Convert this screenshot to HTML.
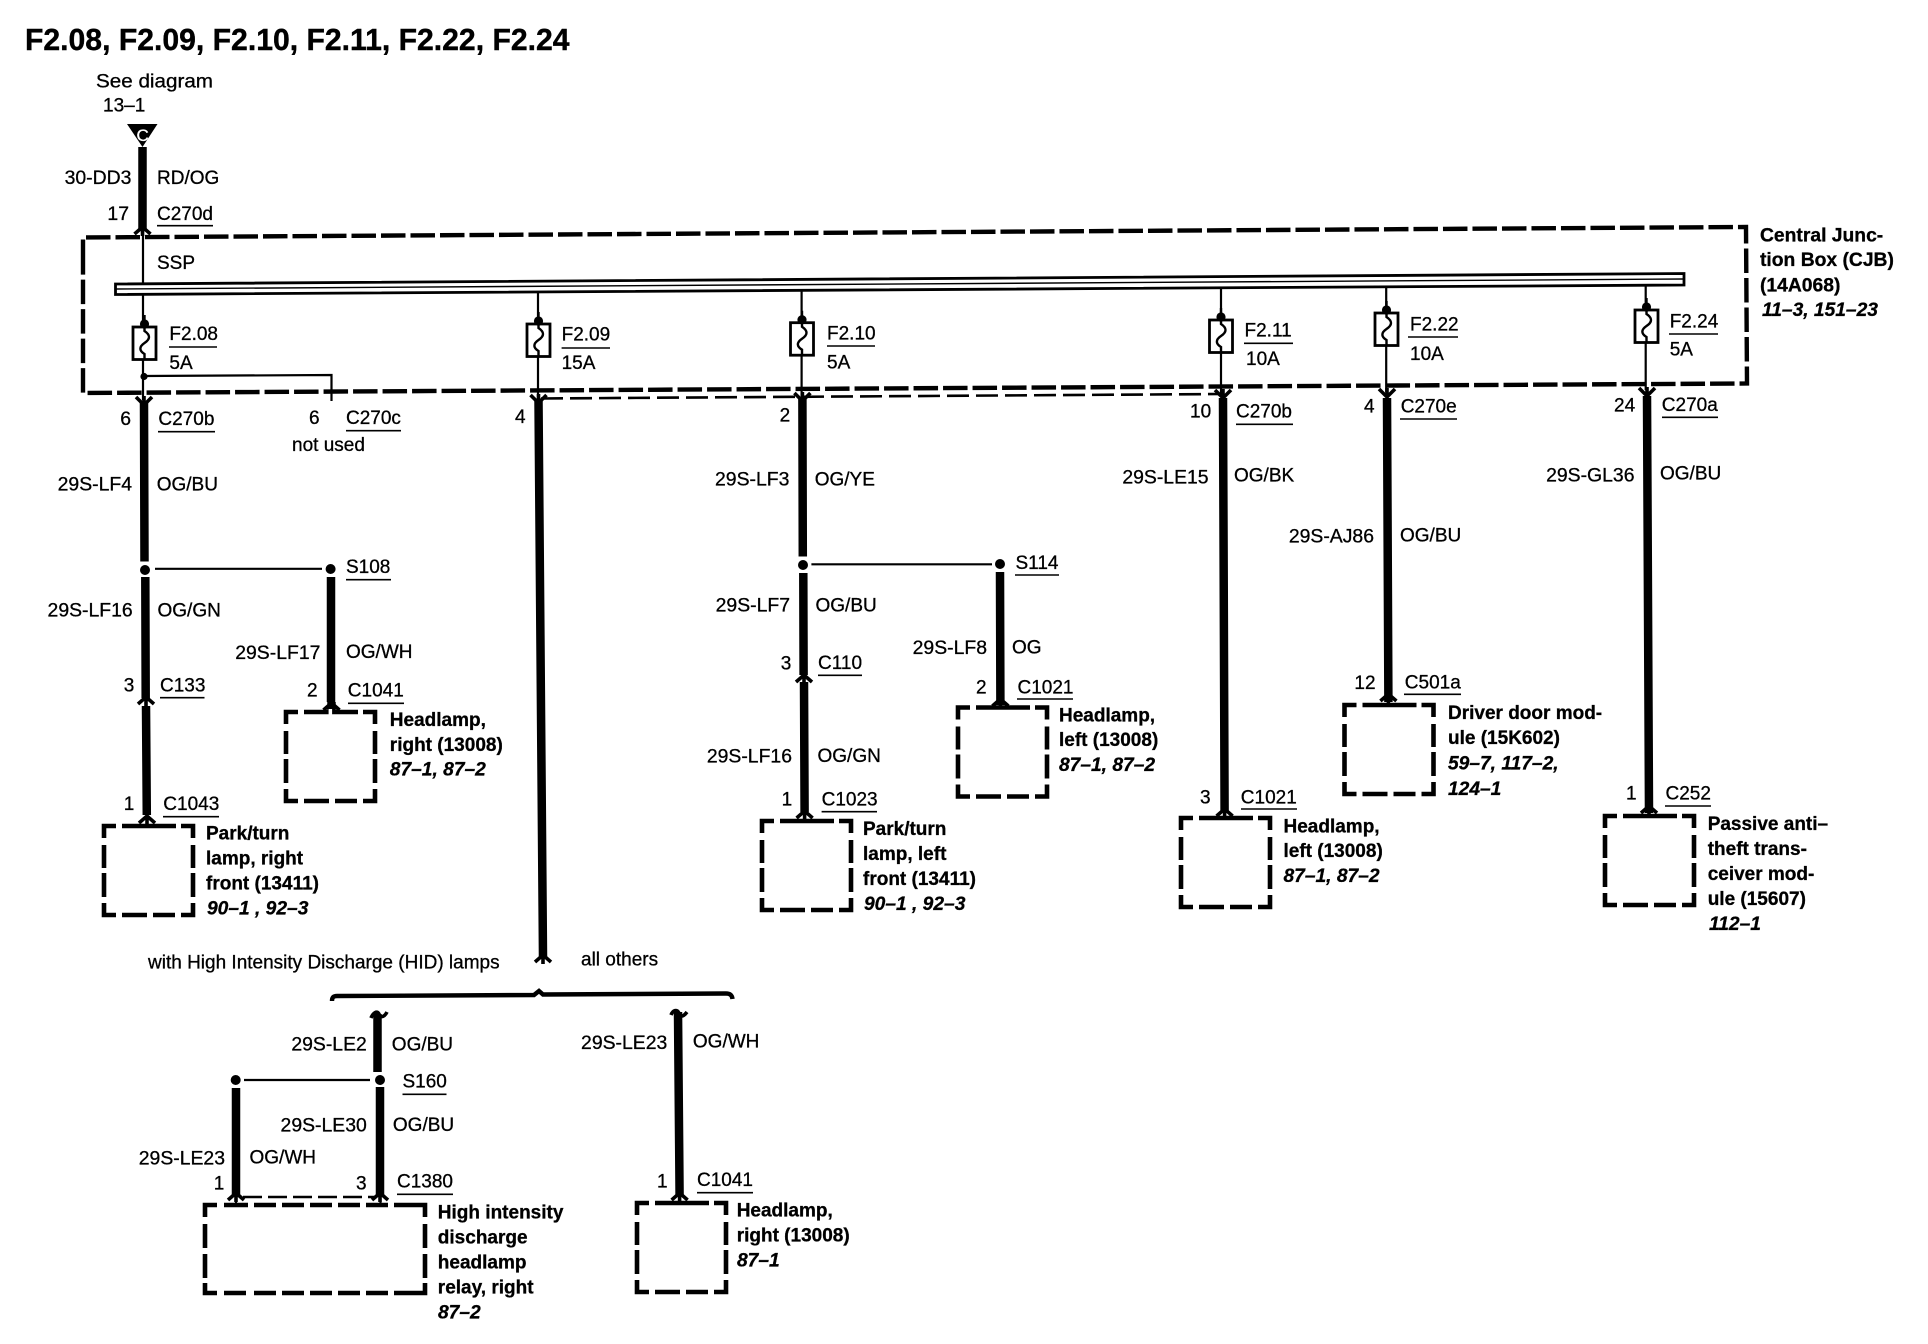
<!DOCTYPE html>
<html><head><meta charset="utf-8"><style>
html,body{margin:0;padding:0;background:#fff}
svg{display:block}
text{font-family:"Liberation Sans",Arial,sans-serif;font-size:19px;fill:#000;stroke:#000;stroke-width:.3}
.e{text-anchor:end;font-size:19.4px}
.b{font-weight:bold;font-size:19px;stroke-width:.3}
.i{font-weight:bold;font-style:italic;font-size:19.2px;stroke-width:.3}
.w{stroke:#000;stroke-width:8.5;fill:none}
.n{stroke:#000;stroke-width:2.2;fill:none}
.c{stroke:#000;stroke-width:3.6;fill:none}
</style></head><body>
<svg xmlns="http://www.w3.org/2000/svg" width="1928" height="1344" viewBox="0 0 1928 1344">
<defs>
<path id="u" d="M-8,7 L0,0 L8,7 M0,0 V9" class="c"/>
<path id="d" d="M-8,-8 L0,0 L8,-8 M0,0 V-9" class="c"/>
<g id="f"><rect x="-11.5" y="0" width="23" height="32.5" fill="#fff" stroke="#000" stroke-width="2.8"/>
<path d="M0,-12 V4 C6,8 6,12 0,16 C-6,20 -5,24 0,27 V33" fill="none" stroke="#000" stroke-width="2.4"/><circle cx="0" cy="-3" r="4.6"/></g>
<path id="bx" fill="none" stroke="#000" stroke-width="4.6" d="M0,12 V0 H12 M18,0 H72 M77,0 H89 V12 M0,19 V42 M0,47 V71 M89,19 V42 M89,47 V71 M0,77 V89 H12 M18,89 H43 M49,89 H71 M77,89 H89 V77"/>
</defs>
<rect width="1928" height="1344" fill="#fff"/>

<!-- CJB box -->
<path d="M83,264 L83,237.5 L1746,227 L1747,383.5 L83,393 Z" fill="none" stroke="#000" stroke-width="4.4" stroke-dasharray="24.5 5"/>
<path d="M541,398.5 L1224,394" fill="none" stroke="#000" stroke-width="2.6" stroke-dasharray="22 7"/>
<!-- bus -->
<path d="M115.5,284 L1684,273.5 L1684,285 L115.5,294.5 Z" fill="#fff" stroke="#000" stroke-width="2.8"/>
<path d="M115.5,289 L1684,279" stroke="#000" stroke-width="1.4"/>

<!-- triangle -->
<path d="M127,124 H157.5 L142.5,147 Z"/>
<text x="136.5" y="141" style="fill:#fff;stroke:#fff;font-size:17px">C</text>

<!-- thin drops -->
<path class="n" d="M143,230 V284 M143,295 V400 M538,293 V397 M801.6,289 V396 M1221,288 V394 M1386.2,286 V392 M1645.7,285 V390 M236,1197 V1205 M380.5,1197 V1205"/>
<path class="n" d="M144,376 L331.5,375 V401" stroke-width="2.6"/>
<circle cx="144" cy="376.5" r="3.6"/>

<!-- fuses -->
<use href="#f" x="144.5" y="327"/><use href="#f" x="538.5" y="324"/><use href="#f" x="802" y="322.7"/>
<use href="#f" x="1221" y="320"/><use href="#f" x="1386.5" y="313"/><use href="#f" x="1646.5" y="310"/>

<!-- thick wires -->
<path class="w" d="M142.5,147 V230 M144,403 L144.5,561.5 M145.3,577 L145.7,698 M146,706 L146.8,815 M331,577 V702 M331.5,702 V711
M538.5,400 L543,957 M802.4,398 L802.8,556.5 M803.3,573 L803.6,675 M804,682 L804.6,812
M1000,572 L1000.4,705 M1223,398 L1224.6,812 M1387,398 L1388.4,702 M1647,396 L1649,813
M377.5,1014 V1072 M380,1087 V1197 M236,1088 V1197 M678,1012 L679.6,1197"/>

<!-- chevrons -->
<use href="#u" x="142.5" y="227"/><use href="#d" x="144" y="405"/><use href="#d" x="538.5" y="403"/><use href="#d" x="802.4" y="401"/>
<use href="#d" x="1223" y="398"/><use href="#d" x="1387" y="397"/><use href="#d" x="1647" y="396"/>
<use href="#u" x="146" y="697"/><use href="#u" x="147" y="816"/><use href="#u" x="331.5" y="703"/>
<use href="#u" x="804" y="675"/><use href="#u" x="804.6" y="811"/><use href="#u" x="1000.4" y="699"/>
<use href="#u" x="1224.6" y="809"/><use href="#u" x="1388.4" y="694"/><use href="#u" x="1649" y="806"/>
<use href="#u" x="236" y="1193"/><use href="#u" x="380" y="1193"/><use href="#u" x="679.6" y="1193"/>
<use href="#u" x="543" y="955"/>

<!-- splices -->
<circle cx="145" cy="570" r="5"/><circle cx="330.6" cy="569" r="5"/><path class="n" d="M155,568.8 H322"/>
<circle cx="803" cy="565" r="5"/><circle cx="1000" cy="564" r="5"/><path class="n" d="M811.4,564.3 H992"/>
<circle cx="380" cy="1080" r="5"/><circle cx="235.7" cy="1080" r="5"/><path class="n" d="M244,1080 H370"/>
<path d="M243,1197 H376" fill="none" stroke="#000" stroke-width="2.4" stroke-dasharray="19 6"/>
<!-- hooks -->
<path class="c" d="M371,1018 C373,1013 377,1010 379,1014 C381,1019 385,1016 387,1012"/>
<path class="c" d="M671,1015 C673,1010 677,1009 679,1013 C681,1018 684,1016 687,1012"/>
<!-- brace -->
<path fill="none" stroke="#000" stroke-width="4.4" d="M332,1001 C332,997 334,996 337,996 L534,995 L539,991 L543,994.5 L726,993.5 C730,993.5 732,995 732.5,999"/>

<!-- boxes -->
<use href="#bx" x="104" y="826"/><use href="#bx" x="286" y="712"/><use href="#bx" x="762" y="821"/>
<use href="#bx" x="958" y="707.5"/><use href="#bx" x="1181" y="818"/><use href="#bx" x="1344.5" y="705"/>
<use href="#bx" x="1605" y="816"/><use href="#bx" x="637" y="1203"/>
<rect x="328.6" y="709" width="3.5" height="6" fill="#fff"/>
<path fill="none" stroke="#000" stroke-width="4.6" d="M205,1217 V1205 H217 M224,1205 H248 M254,1205 H276 M282,1205 H304 M310,1205 H332 M338,1205 H360 M366,1205 H388 M394,1205 H425 V1217 M205,1224 V1248 M205,1254 V1278 M425,1224 V1248 M425,1254 V1278 M205,1283 V1293 H217 M224,1293 H246 M254,1293 H276 M282,1293 H304 M310,1293 H332 M338,1293 H360 M366,1293 H388 M394,1293 H425 V1283"/>

<!-- underlines -->
<path fill="none" stroke="#000" stroke-width="1.6" d="M157,225.7 H213 M169,347 H217 M561.6,348 H610 M827,346 H875 M1244,343.3 H1293 M1408,337 H1458 M1669,334 H1718
M158,431.7 H215 M346,430.7 H401 M1236,424.3 H1293 M1400,419 H1457 M1662,417.3 H1718
M160,697.7 H204.5 M163,816.7 H219 M346,579.7 H391 M348,703.3 H404 M818,675.3 H862 M1015,575 H1059 M1017,699 H1073 M821.6,811.7 H877 M1241,809 H1297 M1404,694.3 H1461 M1665,806 H1711 M402.5,1094.3 H446.5 M397,1194.3 H453 M697,1192.7 H753"/>

<!-- title -->
<text x="25" y="50" style="font-weight:bold;font-size:30.15px;stroke-width:.4">F2.08, F2.09, F2.10, F2.11, F2.22, F2.24</text>
<text x="96" y="87.3" textLength="117" lengthAdjust="spacingAndGlyphs">See diagram</text>
<text x="103" y="111.7">13–1</text>

<text class="e" x="131.4" y="184">30-DD3</text><text x="157" y="184">RD/OG</text>
<text class="e" x="129" y="220">17</text><text x="157" y="220">C270d</text>
<text x="157" y="269">SSP</text>

<text x="169.4" y="340">F2.08</text><text x="169.4" y="369">5A</text>
<text x="561.6" y="340.7">F2.09</text><text x="561.6" y="369">15A</text>
<text x="827" y="339.3">F2.10</text><text x="827" y="368.3">5A</text>
<text x="1244.5" y="336.7">F2.11</text><text x="1246" y="365">10A</text>
<text x="1410" y="330.7">F2.22</text><text x="1410" y="360">10A</text>
<text x="1669.7" y="327.7">F2.24</text><text x="1669.7" y="355.7">5A</text>

<text class="e" x="131" y="425">6</text><text x="158.4" y="425">C270b</text>
<text x="309" y="424">6</text><text x="346" y="424">C270c</text><text x="292" y="451">not used</text>
<text x="515" y="423">4</text>
<text x="779.6" y="421.7">2</text>
<text x="1190" y="417.7">10</text><text x="1236" y="417.7">C270b</text>
<text x="1364" y="412.3">4</text><text x="1400.7" y="412.3">C270e</text>
<text x="1614" y="411.7">24</text><text x="1661.8" y="411">C270a</text>

<text class="e" x="132" y="490.7">29S-LF4</text><text x="156.7" y="490.7">OG/BU</text>
<text class="e" x="132.7" y="616.7">29S-LF16</text><text x="157.5" y="616.7">OG/GN</text>
<text x="123.7" y="691.7">3</text><text x="160" y="691.7">C133</text>
<text x="123.7" y="810">1</text><text x="163.3" y="810">C1043</text>
<text x="346" y="573">S108</text>
<text class="e" x="320.4" y="659">29S-LF17</text><text x="346" y="658">OG/WH</text>
<text x="307" y="696.7">2</text><text x="347.8" y="696.7">C1041</text>

<text class="b" x="389.8" y="726">Headlamp,</text><text class="b" x="389.8" y="751">right (13008)</text><text class="i" x="389.8" y="775.7">87–1, 87–2</text>
<text class="b" x="206" y="839.3">Park/turn</text><text class="b" x="206" y="864.3">lamp, right</text><text class="b" x="206" y="889.3">front (13411)</text><text class="i" x="207" y="914.3">90–1 , 92–3</text>

<text class="e" x="789.4" y="485.5">29S-LF3</text><text x="814.7" y="485.5">OG/YE</text>
<text class="e" x="790" y="611.3">29S-LF7</text><text x="815.5" y="611.3">OG/BU</text>
<text x="780.8" y="669.3">3</text><text x="818" y="669">C110</text>
<text x="1015.5" y="569">S114</text>
<text class="e" x="987" y="654">29S-LF8</text><text x="1012" y="653.5">OG</text>
<text x="976" y="693.3">2</text><text x="1017.5" y="693.3">C1021</text>
<text class="e" x="792" y="762.3">29S-LF16</text><text x="817.5" y="762">OG/GN</text>
<text x="781.6" y="805.7">1</text><text x="821.6" y="805.7">C1023</text>
<text class="b" x="863" y="835">Park/turn</text><text class="b" x="863" y="860">lamp, left</text><text class="b" x="863" y="885">front (13411)</text><text class="i" x="864" y="910">90–1 , 92–3</text>
<text class="b" x="1059" y="721.7">Headlamp,</text><text class="b" x="1059" y="746">left (13008)</text><text class="i" x="1059" y="771">87–1, 87–2</text>

<text class="e" x="1208.6" y="483.3">29S-LE15</text><text x="1234" y="481.7">OG/BK</text>
<text x="1200" y="803.3">3</text><text x="1240.8" y="803.3">C1021</text>
<text class="b" x="1283.5" y="832.5">Headlamp,</text><text class="b" x="1283.5" y="857">left (13008)</text><text class="i" x="1283.5" y="882">87–1, 87–2</text>

<text class="e" x="1374" y="542.3">29S-AJ86</text><text x="1400" y="541.7">OG/BU</text>
<text x="1354.4" y="689">12</text><text x="1404.8" y="688.3">C501a</text>
<text class="b" x="1448" y="719">Driver door mod-</text><text class="b" x="1448" y="744">ule (15K602)</text><text class="i" x="1448" y="769.3">59–7, 117–2,</text><text class="i" x="1448" y="795">124–1</text>

<text class="e" x="1634.5" y="481.7">29S-GL36</text><text x="1660" y="479.3">OG/BU</text>
<text x="1626" y="799.3">1</text><text x="1665.5" y="799.3">C252</text>
<text class="b" x="1707.7" y="830">Passive anti–</text><text class="b" x="1707.7" y="855">theft trans-</text><text class="b" x="1707.7" y="880">ceiver mod-</text><text class="b" x="1707.7" y="905">ule (15607)</text><text class="i" x="1709" y="930">112–1</text>

<text class="b" x="1760" y="241.7" style="font-size:19.3px">Central Junc-</text><text class="b" x="1760" y="266" style="font-size:19.3px">tion Box (CJB)</text><text class="b" x="1760" y="291.7" style="font-size:19.3px">(14A068)</text><text class="i" x="1762" y="316">11–3, 151–23</text>

<text x="148" y="968.5">with High Intensity Discharge (HID) lamps</text>
<text x="581" y="965.5">all others</text>

<text class="e" x="366.8" y="1050.7">29S-LE2</text><text x="391.8" y="1050.7">OG/BU</text>
<text x="402.5" y="1087.3">S160</text>
<text class="e" x="366.8" y="1131.7">29S-LE30</text><text x="392.9" y="1131">OG/BU</text>
<text class="e" x="225" y="1164.3">29S-LE23</text><text x="249.5" y="1163.7">OG/WH</text>
<text x="213.8" y="1189.3">1</text><text x="356" y="1189.3">3</text><text x="397" y="1187.3">C1380</text>
<text class="b" x="437.8" y="1218.3">High intensity</text><text class="b" x="437.8" y="1243.3">discharge</text><text class="b" x="437.8" y="1268.7">headlamp</text><text class="b" x="437.8" y="1293.3">relay, right</text><text class="i" x="438" y="1318.3">87–2</text>

<text class="e" x="667.3" y="1049">29S-LE23</text><text x="692.9" y="1047.7">OG/WH</text>
<text x="657" y="1187.3">1</text><text x="697" y="1186">C1041</text>
<text class="b" x="736.7" y="1216.7">Headlamp,</text><text class="b" x="736.7" y="1241.7">right (13008)</text><text class="i" x="737" y="1266.7">87–1</text>
</svg>
</body></html>
